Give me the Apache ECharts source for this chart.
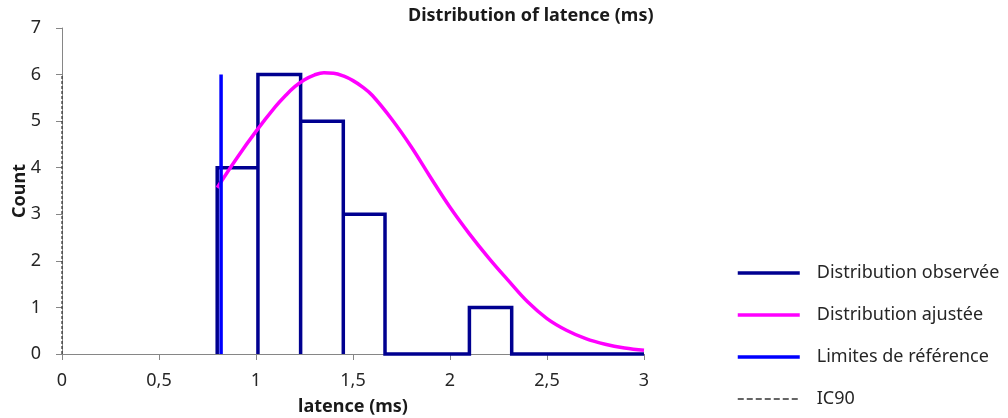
<!DOCTYPE html>
<html>
<head>
<meta charset="utf-8">
<script src="https://cdn.jsdelivr.net/npm/echarts@6/dist/echarts.min.js"></script>
<style>
  html, body { margin: 0; padding: 0; background: #fff; }
  #chart { width: 1008px; height: 418px; }
</style>
</head>
<body>
<div id="chart"></div>
<script>
// histogram bins (edges in ms) and observed counts
var binEdges = [0.80, 1.01, 1.23, 1.45, 1.665, 1.885, 2.10, 2.318];
var binCounts = [4, 6, 5, 3, 0, 0, 1];

// fitted curve
var fitX = [0.8, 0.9, 1.0, 1.1, 1.15, 1.2, 1.25, 1.3, 1.35, 1.4, 1.45, 1.5, 1.55, 1.6, 1.7, 1.8, 1.9, 2.0, 2.1, 2.2, 2.3, 2.4, 2.5, 2.6, 2.7, 2.8, 2.9, 3.0];
var fitY = [3.57, 4.2, 4.78, 5.31, 5.54, 5.74, 5.89, 5.99, 6.04, 6.03, 5.97, 5.87, 5.73, 5.55, 5.04, 4.45, 3.79, 3.15, 2.58, 2.06, 1.58, 1.12, 0.76, 0.51, 0.33, 0.21, 0.13, 0.08];

// reference limit and IC90 lines
var refLimitX = 0.82;
var refLimitTop = 6;
var ic90X = 0;
var ic90Top = 6;

var xMax = 3;

// step outline of the histogram
var histLine = [[binEdges[0], 0]];
for (var i = 0; i < binCounts.length; i++) {
    histLine.push([binEdges[i], binCounts[i]]);
    histLine.push([binEdges[i + 1], binCounts[i]]);
    histLine.push([binEdges[i + 1], 0]);
}
histLine.push([xMax, 0]);

var fitData = [];
for (var j = 0; j < fitX.length; j++) {
    fitData.push([fitX[j], fitY[j]]);
}

var font = 'Noto Sans';
function comma(v) { return String(v).replace('.', ','); }

var option = {
    animation: false,
    title: {
        text: 'Distribution of latence (ms)',
        left: 408,
        top: 7,
        padding: 0,
        textStyle: { fontFamily: font, fontSize: 18, fontWeight: 'bold', color: '#1a1a1a' }
    },
    grid: { left: 62, right: 364, top: 28, bottom: 64, containLabel: false, outerBoundsMode: 'none' },
    legend: {
        orient: 'vertical',
        left: 736,
        top: 264,
        padding: 0,
        itemWidth: 62,
        itemHeight: 14,
        itemGap: 24,
        itemStyle: { opacity: 0 },
        lineStyle: { width: 'inherit' },
        textStyle: { fontFamily: font, fontSize: 18, lineHeight: 18, color: '#262626', padding: [0, 0, 0, 12] },
        data: [
            { name: 'Distribution observée' },
            { name: 'Distribution ajustée' },
            { name: 'Limites de référence' },
            { name: 'IC90', lineStyle: { width: 1.5, type: [6, 3] } }
        ]
    },
    xAxis: {
        type: 'value',
        min: 0,
        max: xMax,
        interval: 0.5,
        name: 'latence (ms)',
        nameLocation: 'middle',
        nameGap: 44,
        nameMoveOverlap: false,
        nameTextStyle: { fontFamily: font, fontSize: 18, fontWeight: 'bold', color: '#1a1a1a' },
        splitLine: { show: false },
        axisLine: { lineStyle: { color: '#868686', width: 1 } },
        axisTick: { show: true, length: 6, lineStyle: { color: '#868686' } },
        axisLabel: { fontFamily: font, fontSize: 18, color: '#262626', margin: 18, formatter: comma }
    },
    yAxis: {
        type: 'value',
        min: 0,
        max: 7,
        interval: 1,
        name: 'Count',
        nameLocation: 'middle',
        nameGap: 33,
        nameMoveOverlap: false,
        nameTextStyle: { fontFamily: font, fontSize: 18, fontWeight: 'bold', color: '#1a1a1a' },
        splitLine: { show: false },
        axisLine: { show: true, lineStyle: { color: '#868686', width: 1 } },
        axisTick: { show: true, length: 6, lineStyle: { color: '#868686' } },
        axisLabel: { fontFamily: font, fontSize: 18, color: '#262626', margin: 21 }
    },
    series: [
        {
            name: 'Distribution observée',
            type: 'line',
            symbol: 'none',
            clip: false,
            color: '#000090',
            lineStyle: { width: 3.5, color: '#000090', join: 'miter' },
            data: histLine,
            z: 3
        },
        {
            name: 'Distribution ajustée',
            type: 'line',
            symbol: 'none',
            smooth: 0.4,
            clip: false,
            color: '#ff00ff',
            lineStyle: { width: 3.5, color: '#ff00ff' },
            data: fitData,
            z: 4
        },
        {
            name: 'Limites de référence',
            type: 'line',
            symbol: 'none',
            clip: false,
            color: '#0000ff',
            lineStyle: { width: 3.5, color: '#0000ff' },
            data: [[refLimitX, 0], [refLimitX, refLimitTop]],
            z: 5
        },
        {
            name: 'IC90',
            type: 'line',
            symbol: 'none',
            clip: false,
            color: '#333333',
            lineStyle: { width: 1.2, color: '#333333', type: [3, 2] },
            data: [[ic90X, 0], [ic90X, ic90Top]],
            z: 5
        }
    ]
};

var myChart = echarts.init(document.getElementById('chart'));
myChart.setOption(option);
</script>
</body>
</html>
